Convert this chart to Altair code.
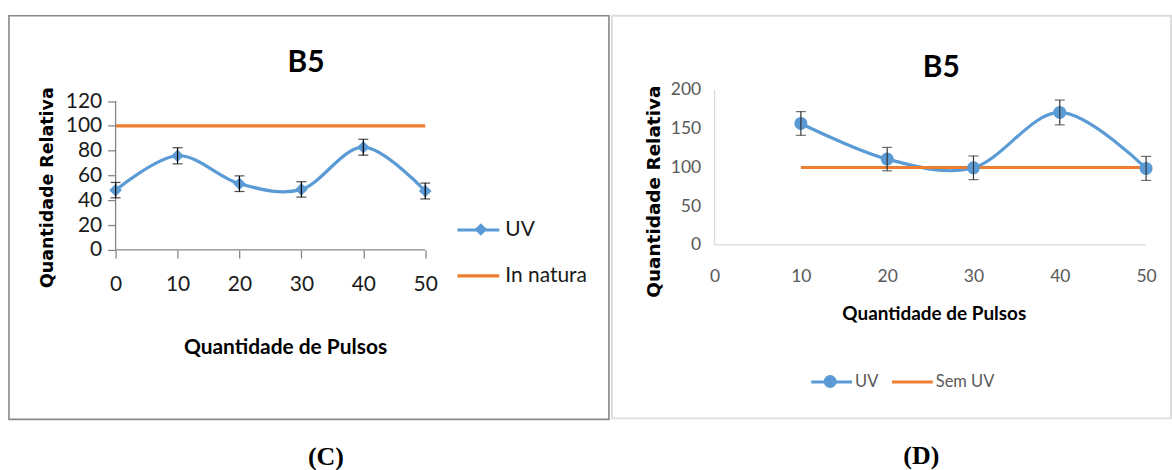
import altair as alt
import pandas as pd

# ---------------- data ----------------
# Panel (C)
c_pulsos = [0, 10, 20, 30, 40, 50]
c_uv = [48.2, 75.9, 53.4, 48.8, 82.8, 47.5]
c_uv_err = [6.2, 6.5, 6.3, 6.2, 6.4, 6.4]
c_ref_pulsos = [0, 10, 20, 30, 40, 50]
c_ref = [100, 100, 100, 100, 100, 100]
c_series = ["UV", "In natura"]
c_xticks = [0, 10, 20, 30, 40, 50]
c_yticks = [0, 20, 40, 60, 80, 100, 120]

# Panel (D)
d_pulsos = [10, 20, 30, 40, 50]
d_uv = [156.8, 110.8, 99.6, 171.0, 98.8]
d_uv_err = [15.3, 15.1, 15.3, 16.0, 15.5]
d_ref_pulsos = [10, 20, 30, 40, 50]
d_ref = [100, 100, 100, 100, 100]
d_series = ["UV", "Sem UV"]
d_xticks = [0, 10, 20, 30, 40, 50]
d_yticks = [0, 50, 100, 150, 200]

BLUE = "#5B9BD5"
ORANGE = "#ED7D31"


def domain_for(size, px0, px1, v0, v1, invert=False):
    ppu = (px1 - px0) / (v1 - v0)
    if not invert:
        return [v0 - px0 / ppu, v0 + (size - px0) / ppu]
    ppu = (px0 - px1) / (v1 - v0)
    return [v0 - (size - px0) / ppu, v0 + px0 / ppu]


def make_panel(p):
    xs = alt.Scale(domain=p["xdom"], nice=False, zero=False)
    ys = alt.Scale(domain=p["ydom"], nice=False, zero=False)

    lines = pd.DataFrame({
        "x": p["x_uv"] + p["x_ref"],
        "y": p["uv"] + p["ref"],
        "serie": [p["series"][0]] * len(p["x_uv"]) + [p["series"][1]] * len(p["x_ref"]),
    })
    pts = pd.DataFrame({
        "x": p["x_uv"],
        "y": p["uv"],
        "lo": [v - e for v, e in zip(p["uv"], p["err"])],
        "hi": [v + e for v, e in zip(p["uv"], p["err"])],
        "serie": [p["series"][0]] * len(p["x_uv"]),
    })
    xdom_line = pd.DataFrame({"x": [p["xticks"][0]], "x2": [p["xticks"][-1]], "y": [0]})
    ydom_line = pd.DataFrame({"x": [0], "y": [p["yticks"][0]], "y2": [p["yticks"][-1]]})

    ax = p["axis"]
    x_axis = alt.Axis(
        values=p["xticks"], orient="bottom", offset=ax["xoff"], domain=False,
        ticks=ax["ticks"], tickSize=8, tickColor=ax["dom_color"], tickWidth=1.3,
        labelFont="Lato", labelFontSize=ax["lab_size"], labelColor=ax["lab_color"],
        labelPadding=ax["xlabpad"], labelFlush=False, labelOverlap=False, grid=False,
        title="Quantidade de Pulsos", titleFont="Lato", titleFontSize=ax["xt_size"],
        titleFontWeight="bold", titleColor="#000000", titleX=ax["xtx"], titleY=ax["xty"],
        titleBaseline="middle", titleAlign="center",
    )
    y_axis = alt.Axis(
        values=p["yticks"], orient="left", offset=ax["yoff"], domain=False,
        ticks=ax["ticks"], tickSize=8, tickColor=ax["dom_color"], tickWidth=1.3,
        labelFont="Lato", labelFontSize=ax["lab_size"], labelColor=ax["lab_color"],
        labelPadding=ax["ylabpad"], labelOverlap=False, grid=False,
        title="Quantidade Relativa", titleFont="DejaVu Sans", titleFontSize=ax["yt_size"],
        titleFontWeight="bold", titleColor="#000000", titleX=ax["ytx"], titleY=ax["yty"],
        titleAngle=270, titleBaseline="middle", titleAlign="center",
    )

    lg = p["legend"]
    legend_a = alt.Legend(
        orient="none", legendX=lg["ax"], legendY=lg["ay"], direction=lg["dir"], title=None,
        symbolType="stroke", symbolSize=lg["sym"], symbolStrokeWidth=3.2,
        labelFont="Lato", labelFontSize=lg["size"], labelColor=lg["color"],
        labelOffset=lg["loff"], rowPadding=lg["rowpad"], columnPadding=lg["colpad"],
        padding=0, zindex=0,
    )
    legend_b = alt.Legend(
        orient="none", legendX=lg["bx"], legendY=lg["by"], title=None,
        labelExpr="''", labelFontSize=1, symbolSize=p["msize"], symbolStrokeWidth=0,
        symbolFillColor=BLUE, symbolOpacity=1, padding=0, zindex=1,
    )

    # Only the first layer defines the axes; the other layers leave them unspecified
    # so that Vega-Lite merges them into the first layer's axes.
    X = lambda f: alt.X(f + ":Q", scale=xs)
    Y = lambda f: alt.Y(f + ":Q", scale=ys)

    line_layer = alt.Chart(lines).mark_line(interpolate="cardinal", strokeWidth=3.2).encode(
        x=alt.X("x:Q", scale=xs, axis=x_axis),
        y=alt.Y("y:Q", scale=ys, axis=y_axis),
        color=alt.Color("serie:N", scale=alt.Scale(domain=p["series"], range=[BLUE, ORANGE]),
                        legend=legend_a),
    )
    xrule = alt.Chart(xdom_line).mark_rule(color=ax["dom_color"], strokeWidth=1.3).encode(
        x=X("x"), x2="x2:Q", y=Y("y"))
    yrule = alt.Chart(ydom_line).mark_rule(color=ax["dom_color"], strokeWidth=1.3).encode(
        x=X("x"), y=Y("y"), y2="y2:Q")

    points = alt.Chart(pts).mark_point(filled=True, size=p["msize"], opacity=1, color=BLUE).encode(
        x=X("x"), y=Y("y"),
        shape=alt.Shape("serie:N", scale=alt.Scale(domain=[p["series"][0]], range=[p["mshape"]]),
                        legend=legend_b),
    )
    ebar = alt.Chart(pts).mark_rule(color=p["ecolor"], strokeWidth=1.2).encode(
        x=X("x"), y=Y("lo"), y2="hi:Q")
    cap_lo = alt.Chart(pts).mark_tick(orient="horizontal", size=10, thickness=1.2,
                                      color=p["ecolor"]).encode(x=X("x"), y=Y("lo"))
    cap_hi = alt.Chart(pts).mark_tick(orient="horizontal", size=10, thickness=1.2,
                                      color=p["ecolor"]).encode(x=X("x"), y=Y("hi"))

    layer = alt.layer(line_layer, xrule, yrule, points, ebar, cap_lo, cap_hi).properties(
        width=p["w"], height=p["h"],
        view=alt.ViewBackground(stroke=p["frame"], strokeWidth=p["frame_w"]),
        title=alt.TitleParams("B5", orient="top", font="Lato", fontSize=30, fontWeight="bold",
                              color="#000000", offset=p["t_off"], dx=p["t_dx"], anchor="middle"),
    )
    return alt.hconcat(layer, spacing=0).properties(
        title=alt.TitleParams(p["label"], orient="bottom", font="Liberation Serif", fontSize=26,
                              fontWeight="bold", color="#000000", offset=24, dx=p["l_dx"],
                              anchor="middle"))


WC, HC = 602, 405
panel_c = dict(
    x_uv=c_pulsos, uv=c_uv, err=c_uv_err, x_ref=c_ref_pulsos, ref=c_ref, series=c_series,
    xticks=c_xticks, yticks=c_yticks, w=WC, h=HC,
    xdom=domain_for(WC, 107, 417.7, 0, 50),
    ydom=domain_for(HC, 235, 85.6, 0, 120, invert=True),
    axis=dict(xoff=-(HC - 235), yoff=-107, ticks=True, dom_color="#868686", lab_size=21,
              lab_color="#1a1a1a", xlabpad=16, ylabpad=6, xt_size=21, xtx=277, xty=98,
              yt_size=17.5, ytx=-68, yty=172),
    legend=dict(ax=448, ay=192, dir="vertical", sym=1764, size=21, color="#1a1a1a",
                loff=4, rowpad=13, colpad=10, bx=467, by=208),
    msize=160, mshape="diamond", ecolor="#000000",
    frame="#888888", frame_w=1.6, t_off=-62, t_dx=-3, label="(C)", l_dx=17,
)

WD, HD = 561, 404
panel_d = dict(
    x_uv=d_pulsos, uv=d_uv, err=d_uv_err, x_ref=d_ref_pulsos, ref=d_ref, series=d_series,
    xticks=d_xticks, yticks=d_yticks, w=WD, h=HD,
    xdom=domain_for(WD, 103, 536, 0, 50),
    ydom=domain_for(HD, 230, 74.5, 0, 200, invert=True),
    axis=dict(xoff=-(HD - 230), yoff=-103, ticks=False, dom_color="#d9d9d9", lab_size=17.5,
              lab_color="#595959", xlabpad=23, ylabpad=14, xt_size=19, xtx=323, xty=69,
              yt_size=18.5, ytx=-61, yty=176),
    legend=dict(ax=198, ay=345, dir="horizontal", sym=1681, size=16.5, color="#595959",
                loff=1, rowpad=0, colpad=6, bx=212, by=360),
    msize=170, mshape="circle", ecolor="#333333",
    frame="#dddddd", frame_w=2, t_off=-67, t_dx=50, label="(D)", l_dx=30,
)

chart = alt.hconcat(make_panel(panel_c), make_panel(panel_d), spacing=1).resolve_scale(
    color="independent", shape="independent", x="independent", y="independent"
).resolve_legend(color="independent", shape="independent").properties(
    padding={"left": 8, "top": 14, "right": 0, "bottom": 0},
    background="white",
)

chart.save("out.html", embed_options={"renderer": "svg", "actions": False})
